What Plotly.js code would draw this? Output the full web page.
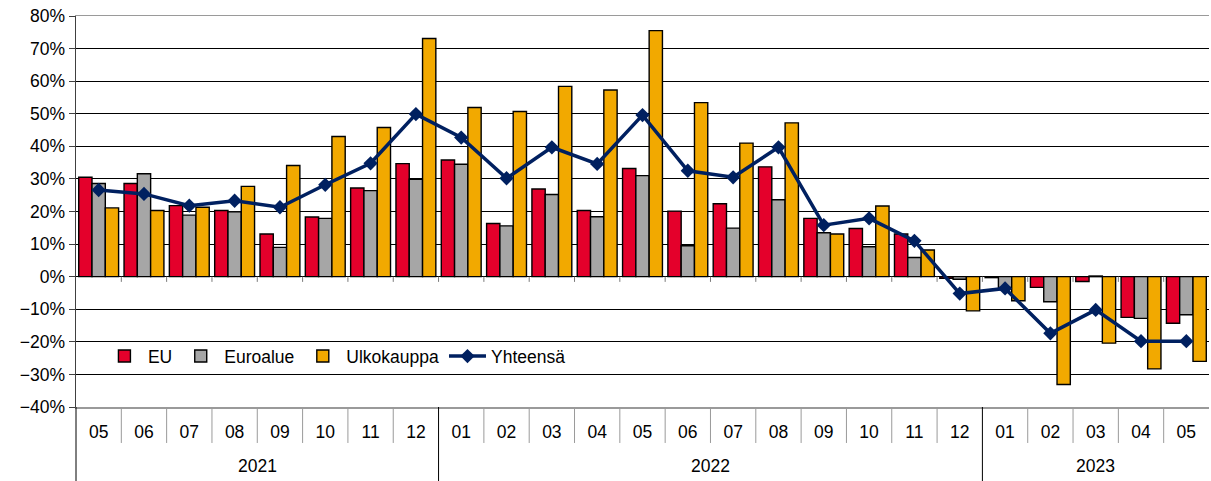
<!DOCTYPE html>
<html>
<head>
<meta charset="utf-8">
<script src="https://cdn.plot.ly/plotly-3.0.1.min.js"></script>
<style>
  html, body { margin: 0; padding: 0; background: #fff; }
  #chart { width: 1211px; height: 481px; }
</style>
</head>
<body>
<div id="chart"></div>
<script>
const years = ['2021', '2021', '2021', '2021', '2021', '2021', '2021', '2021',
    '2022', '2022', '2022', '2022', '2022', '2022', '2022', '2022', '2022', '2022', '2022', '2022',
    '2023', '2023', '2023', '2023', '2023'];
const months = ['05', '06', '07', '08', '09', '10', '11', '12',
    '01', '02', '03', '04', '05', '06', '07', '08', '09', '10', '11', '12',
    '01', '02', '03', '04', '05'];

const eu = [30.5, 28.6, 21.8, 20.3, 13.1, 18.3, 27.2, 34.7, 35.8, 16.3, 26.9, 20.3, 33.2, 20.1, 22.4, 33.7, 17.9, 14.8, 13.1, -0.5, -0.3, -3.3, -1.5, -12.5, -14.3];
const euroalue = [28.6, 31.6, 18.9, 19.9, 9.0, 17.9, 26.4, 29.9, 34.5, 15.6, 25.2, 18.4, 31.0, 9.5, 14.9, 23.6, 13.5, 9.2, 5.9, -0.8, -3.3, -7.7, 0.2, -12.8, -11.7];
const ulkokauppa = [21.1, 20.3, 21.3, 27.7, 34.1, 43.0, 45.8, 73.1, 51.9, 50.7, 58.4, 57.3, 75.5, 53.4, 41.0, 47.2, 13.1, 21.7, 8.2, -10.5, -7.4, -33.1, -20.4, -28.3, -26.0];
const yhteensa = [26.6, 25.4, 21.8, 23.3, 21.3, 28.2, 34.8, 49.9, 42.7, 30.2, 39.7, 34.6, 49.6, 32.5, 30.5, 39.7, 15.8, 17.9, 11.0, -5.2, -3.6, -17.4, -10.2, -19.8, -19.8];

// one slot per month, plain index positions on a linear axis
const x = months.map((m, i) => i);
const font = { family: 'Liberation Sans, Arial, sans-serif', size: 17.5, color: '#000' };

function barTrace(name, values, color) {
    return {
        type: 'bar',
        name: name,
        x: x,
        y: values,
        marker: { color: color, line: { color: '#000', width: 1.4 } },
        hoverinfo: 'y'
    };
}

const traces = [
    barTrace('EU', eu, '#E4002B'),
    barTrace('Euroalue', euroalue, '#A6A6A6'),
    barTrace('Ulkokauppa', ulkokauppa, '#F2A900'),
    {
        type: 'scatter',
        mode: 'lines+markers',
        name: 'Yhteensä',
        x: x,
        y: yhteensa,
        line: { color: '#002060', width: 3.5 },
        marker: { symbol: 'diamond', size: 11, color: '#002060' }
    }
];

// dividers under the axis: short grey ones between months, long black ones between years
const shapes = [];
const annotations = [];
for (let i = 1; i < months.length; i++) {
    const newYear = years[i] !== years[i - 1];
    shapes.push({
        type: 'line', xref: 'x', yref: 'paper',
        x0: i - 0.5, x1: i - 0.5, y0: 0, y1: newYear ? -0.19 : -0.092,
        line: { color: newYear ? '#000' : '#9a9a9a', width: 1 }
    });
    // little ticks hanging under the 0% line
    shapes.push({
        type: 'line', xref: 'x', yref: 'y',
        x0: i - 0.5, x1: i - 0.5, y0: 0, y1: -1.6,
        line: { color: '#7a7a7a', width: 1 }
    });
}
shapes.push({
    type: 'line', xref: 'paper', yref: 'paper',
    x0: 0, x1: 0, y0: 0, y1: -0.19,
    line: { color: '#000', width: 1 }
});

const yearList = [...new Set(years)];
yearList.forEach(yr => {
    const idx = x.filter(i => years[i] === yr);
    const mid = (idx[0] + idx[idx.length - 1]) / 2;
    annotations.push({
        x: mid, xref: 'x', y: -0.152, yref: 'paper',
        text: yr, showarrow: false, font: font,
        xanchor: 'center', yanchor: 'middle'
    });
});

const layout = {
    width: 1211,
    height: 481,
    margin: { l: 76, r: 2, t: 16, b: 74 },
    paper_bgcolor: '#fff',
    plot_bgcolor: '#fff',
    font: font,
    barmode: 'group',
    bargap: 0.12,
    bargroupgap: 0,
    showlegend: true,
    legend: {
        orientation: 'h',
        x: 0.022,
        xanchor: 'left',
        y: 0.13,
        yanchor: 'middle',
        itemwidth: 37,
        bgcolor: 'rgba(255,255,255,0)',
        font: font,
        traceorder: 'normal'
    },
    xaxis: {
        range: [-0.5, months.length - 0.5],
        tickmode: 'array',
        tickvals: x,
        ticktext: months,
        ticks: '',
        ticklabelstandoff: 8,
        showline: true,
        linecolor: '#9a9a9a',
        linewidth: 1.5,
        mirror: true,
        showgrid: false,
        zeroline: false,
        tickfont: font
    },
    yaxis: {
        range: [-40, 80],
        dtick: 10,
        ticksuffix: '%',
        showline: true,
        linecolor: '#404040',
        linewidth: 1.5,
        ticks: 'outside',
        ticklen: 6,
        tickcolor: '#404040',
        showgrid: true,
        gridcolor: '#000',
        gridwidth: 1,
        zeroline: true,
        zerolinecolor: '#000',
        zerolinewidth: 1,
        tickfont: font
    },
    shapes: shapes,
    annotations: annotations
};

Plotly.newPlot('chart', traces, layout, { displayModeBar: false, staticPlot: true });
</script>
</body>
</html>
